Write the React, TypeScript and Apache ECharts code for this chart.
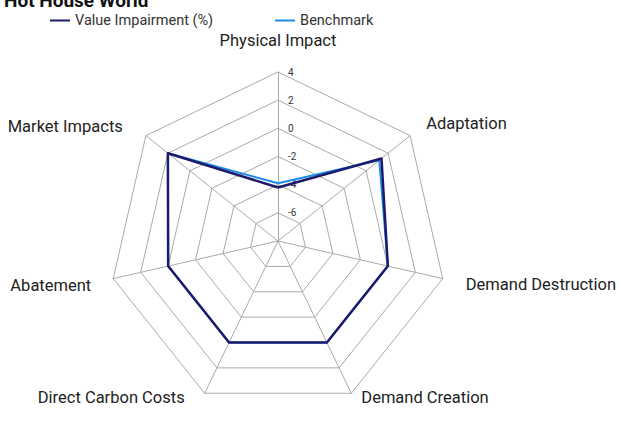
import React, { useEffect, useRef } from "react";
import * as echarts from "echarts";

const indicators = [
  "Physical Impact",
  "Market Impacts",
  "Abatement",
  "Direct Carbon Costs",
  "Demand Creation",
  "Demand Destruction",
  "Adaptation",
];
const valueImpairment = [-4.2, 2.0, 0.0, 0.0, 0.0, 0.0, 1.4];
const benchmark = [-3.9, 2.0, 0.0, 0.0, 0.0, 0.0, 1.2];
const axisMin = -8;
const axisMax = 4;

// label placement relative to each outer vertex
const nameLayout = [
  { dx: 0, dy: -23, align: "center", va: "bottom" },
  { dx: -23, dy: -9, align: "right", va: "middle" },
  { dx: -22, dy: 7, align: "right", va: "middle" },
  { dx: -20, dy: 4, align: "right", va: "middle" },
  { dx: 10, dy: 4, align: "left", va: "middle" },
  { dx: 23, dy: 6, align: "left", va: "middle" },
  { dx: 16, dy: -12, align: "left", va: "middle" },
];

const CX = 278;
const CY = 241;
const R = 169;

export default function App() {
  const ref = useRef<HTMLDivElement>(null);
  useEffect(() => {
    document.body.style.margin = "0";
    const chart = echarts.init(ref.current!, null, { renderer: "svg" });
    const n = indicators.length;
    const nameTexts = indicators.map((name, i) => {
      const a = ((90 + (i * 360) / n) * Math.PI) / 180;
      const vx = CX + R * Math.cos(a);
      const vy = CY - R * Math.sin(a);
      const l = nameLayout[i];
      return {
        type: "text",
        x: vx + l.dx,
        y: vy + l.dy,
        silent: true,
        style: {
          text: name,
          fill: "#222",
          font: "16.5px Roboto",
          textAlign: l.align,
          textVerticalAlign: l.va,
        },
      };
    });
    chart.setOption({
      animation: false,
      textStyle: { fontFamily: "Roboto" },
      title: {
        text: "Hot House World",
        left: -1,
        top: -14,
        textStyle: { fontSize: 19, fontWeight: "bold", color: "#111", fontFamily: "Roboto" },
      },
      legend: {
        top: 8,
        left: 45,
        icon: "rect",
        itemWidth: 20,
        itemHeight: 2,
        itemGap: 62,
        textStyle: { fontSize: 14.5, color: "#333", fontFamily: "Roboto" },
        data: ["Value Impairment (%)", "Benchmark"],
      },
      radar: {
        center: [CX, CY],
        radius: R,
        shape: "polygon",
        splitNumber: 6,
        startAngle: 90,
        axisName: { show: false },
        splitArea: { show: false },
        splitLine: { lineStyle: { color: "#aaa", width: 1 } },
        axisLine: { lineStyle: { color: "#aaa", width: 1 } },
        axisLabel: { show: false },
        indicator: indicators.map((name, i) =>
          i === 0
            ? {
                name,
                min: axisMin,
                max: axisMax,
                axisLabel: {
                  show: true,
                  fontSize: 10,
                  color: "#333",
                  margin: -10,
                  align: "left",
                  formatter: (v: number) => (v === axisMin ? "" : String(v)),
                },
              }
            : { name, min: axisMin, max: axisMax }
        ),
      },
      graphic: nameTexts,
      series: [
        {
          type: "radar",
          symbol: "none",
          z: 2,
          data: [
            {
              name: "Benchmark",
              value: benchmark,
              lineStyle: { color: "#1e8ce6", width: 2 },
              itemStyle: { color: "#1e8ce6" },
            },
          ],
        },
        {
          type: "radar",
          symbol: "none",
          z: 3,
          data: [
            {
              name: "Value Impairment (%)",
              value: valueImpairment,
              lineStyle: { color: "#1c1a6b", width: 2.5 },
              itemStyle: { color: "#1c1a6b" },
            },
          ],
        },
      ],
    });
    return () => chart.dispose();
  }, []);
  return <div ref={ref} style={{ width: 621, height: 432 }} />;
}
